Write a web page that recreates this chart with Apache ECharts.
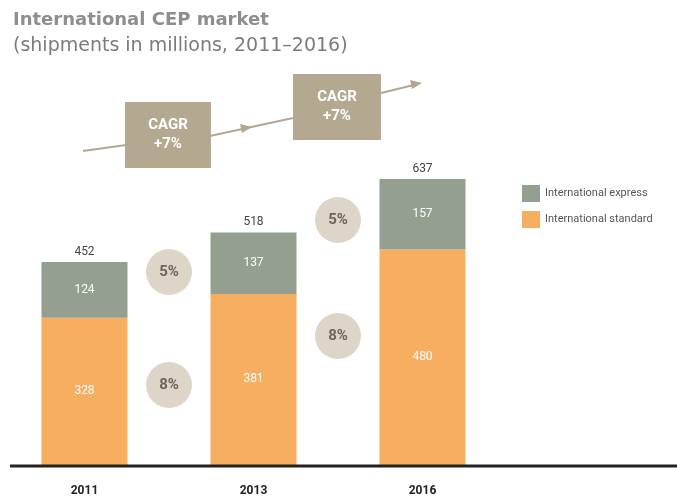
<!DOCTYPE html>
<html>
<head>
<meta charset="UTF-8">
<title>International CEP market</title>
<script src="https://cdn.jsdelivr.net/npm/echarts@6/dist/echarts.min.js"></script>
<style>
  html, body { margin: 0; padding: 0; background: #fff; }
  #chart { width: 677px; height: 497px; }
</style>
</head>
<body>
<div id="chart"></div>
<script>
// data
var years = ['2011', '2013', '2016'];
var standard = [328, 381, 480];
var express = [124, 137, 157];
var totals = years.map(function (y, i) { return standard[i] + express[i]; });
var growthExpress = ['5%', '5%'];
var growthStandard = ['8%', '8%'];
var cagr = ['+7%', '+7%'];

var chart = echarts.init(document.getElementById('chart'));
var fontFam = 'Roboto, "Liberation Sans", sans-serif';
var titleFam = '"DejaVu Sans", sans-serif';

var option = {
  animation: false,
  textStyle: { fontFamily: fontFam },
  title: {
    text: 'International CEP market',
    subtext: '(shipments in millions, 2011\u20132016)',
    left: 8, top: 6, itemGap: 8,
    textStyle: { fontSize: 18, fontWeight: 'bold', color: '#8e8e8e', fontFamily: titleFam },
    subtextStyle: { fontSize: 19, color: '#7b7b7b', fontFamily: titleFam }
  },
  legend: {
    orient: 'vertical', left: 517, top: 180,
    itemWidth: 18, itemHeight: 17, itemGap: 9,
    icon: 'rect',
    data: ['International express', 'International standard'],
    textStyle: { fontSize: 11, color: '#555', fontFamily: fontFam }
  },
  grid: { left: 0, right: 170, top: 16, bottom: 32 },
  xAxis: {
    type: 'category', data: years,
    axisLine: { show: false }, axisTick: { show: false },
    axisLabel: { margin: 20, fontSize: 12, fontWeight: 'bold', color: '#222' }
  },
  yAxis: { type: 'value', min: 0, max: 1000, show: false, splitLine: { show: false } },
  series: [
    {
      name: 'International standard', type: 'bar', stack: 'all', barWidth: 86,
      itemStyle: { color: '#f6ae60' },
      label: { show: true, position: 'inside', color: '#fff', fontSize: 12 },
      data: standard
    },
    {
      name: 'International express', type: 'bar', stack: 'all', barWidth: 86,
      itemStyle: { color: '#949f8f' },
      label: { show: true, position: 'inside', color: '#fff', fontSize: 12 },
      data: express
    },
    {
      name: 'total', type: 'bar', stack: 'all', barWidth: 86,
      itemStyle: { color: 'transparent' },
      label: {
        show: true, position: 'top', distance: 4, color: '#444', fontSize: 12,
        formatter: function (p) { return totals[p.dataIndex]; }
      },
      data: years.map(function () { return 0; })
    }
  ]
};
chart.setOption(option);

// annotations: baseline, growth circles, CAGR boxes with arrow line
var g = [];
var baseY = chart.convertToPixel({ yAxisIndex: 0 }, 0);
g.push({ type: 'line', shape: { x1: 10, y1: baseY + 1, x2: 677, y2: baseY + 1 },
  style: { stroke: '#222', lineWidth: 3 }, z: 10 });

var midX = [0, 1].map(function (i) {
  return (chart.convertToPixel({ xAxisIndex: 0 }, years[i]) + chart.convertToPixel({ xAxisIndex: 0 }, years[i + 1])) / 2;
});
var circY5 = [272, 220], circY8 = [385, 336];
[0, 1].forEach(function (i) {
  [[circY5[i], growthExpress[i]], [circY8[i], growthStandard[i]]].forEach(function (c) {
    g.push({ type: 'circle', shape: { cx: midX[i], cy: c[0], r: 23 }, style: { fill: '#ddd5c8' } });
    g.push({ type: 'text', x: midX[i], y: c[0],
      style: { text: c[1], fill: '#6e6458', font: 'bold 15px ' + fontFam, align: 'center', verticalAlign: 'middle' } });
  });
});

var lineCol = '#b3a792';
g.push({ type: 'polyline', shape: { points: [[83, 151], [126, 145]] }, style: { stroke: lineCol, lineWidth: 2 } });
g.push({ type: 'polyline', shape: { points: [[210, 136], [293, 118]] }, style: { stroke: lineCol, lineWidth: 2 } });
g.push({ type: 'polyline', shape: { points: [[381, 93], [418, 84]] }, style: { stroke: lineCol, lineWidth: 2 } });
g.push({ type: 'polygon', shape: { points: [[252, 127], [240, 124], [242, 133]] }, style: { fill: lineCol } });
g.push({ type: 'polygon', shape: { points: [[422, 83], [410, 80], [412, 89]] }, style: { fill: lineCol } });

var boxes = [[125, 102, 86, 66], [293, 74, 88, 66]];
boxes.forEach(function (b, i) {
  g.push({ type: 'rect', shape: { x: b[0], y: b[1], width: b[2], height: b[3] }, style: { fill: '#b5a891' } });
  g.push({ type: 'text', x: b[0] + b[2] / 2, y: b[1] + b[3] / 2,
    style: { text: 'CAGR\n' + cagr[i], fill: '#fff', font: 'bold 15px ' + fontFam, lineHeight: 19,
      align: 'center', verticalAlign: 'middle' } });
});

chart.setOption({ graphic: g });
</script>
</body>
</html>
